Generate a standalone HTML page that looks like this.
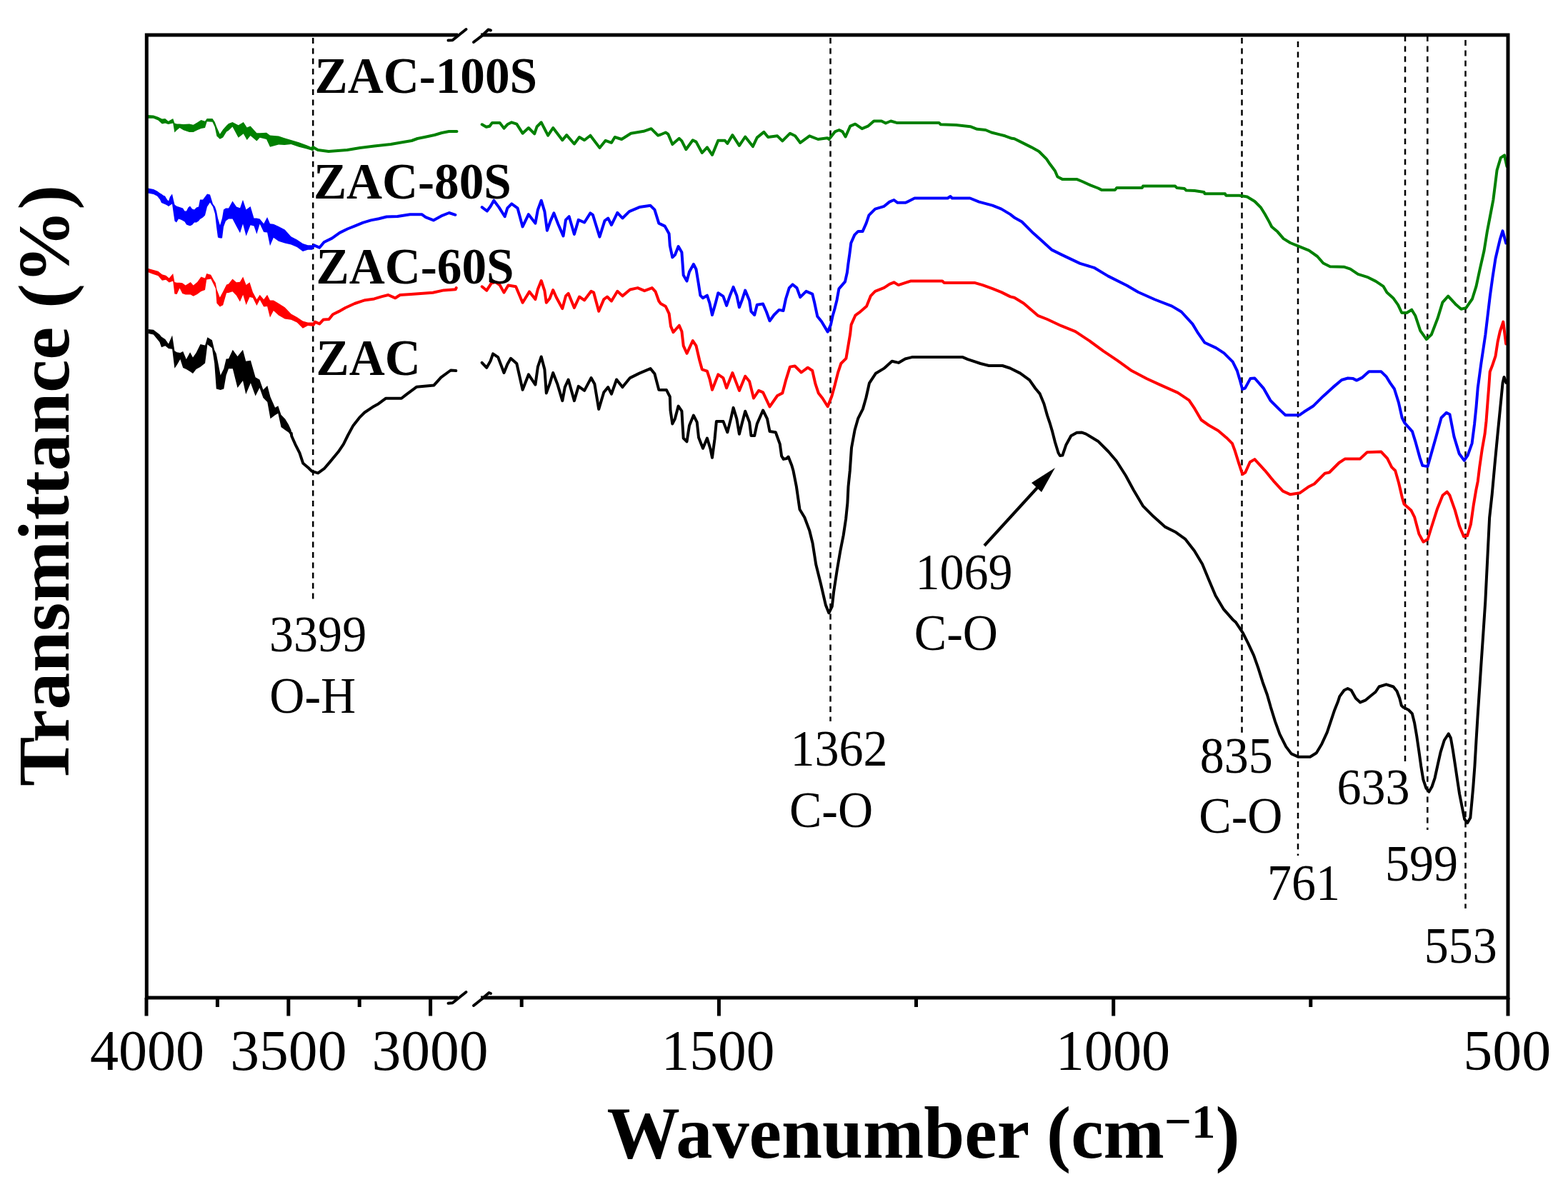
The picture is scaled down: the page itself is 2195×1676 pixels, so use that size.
<!DOCTYPE html>
<html><head><meta charset="utf-8"><title>FTIR spectra</title>
<style>html,body{margin:0;padding:0;background:#fff;}svg{display:block;}</style></head>
<body><svg xmlns="http://www.w3.org/2000/svg" width="2195" height="1676" viewBox="0 0 2195 1676">
<rect width="2195" height="1676" fill="#fff"/>
<line x1="438.2" y1="53" x2="438.2" y2="844" stroke="#000" stroke-width="2.5" stroke-dasharray="8 6.4"/>
<line x1="1162.5" y1="53" x2="1162.5" y2="1010" stroke="#000" stroke-width="2.5" stroke-dasharray="8 6.4"/>
<line x1="1738.5" y1="53" x2="1738.5" y2="1032" stroke="#000" stroke-width="2.5" stroke-dasharray="8 6.4"/>
<line x1="1817" y1="58" x2="1817" y2="1198" stroke="#000" stroke-width="2.5" stroke-dasharray="8 6.4"/>
<line x1="1967" y1="50" x2="1967" y2="1071" stroke="#000" stroke-width="2.5" stroke-dasharray="8 6.4"/>
<line x1="1998.3" y1="50" x2="1998.3" y2="1162" stroke="#000" stroke-width="2.5" stroke-dasharray="8 6.4"/>
<line x1="2051.5" y1="56" x2="2051.5" y2="1272" stroke="#000" stroke-width="2.5" stroke-dasharray="8 6.4"/>
<polygon points="206.6,161.0 214.8,161.5 221.4,163.7 226.9,166.5 231.2,165.9 235.6,169.7 242.2,165.9 244.4,172.5 247.6,173.6 251.5,173.6 256.9,174.1 265.1,173.6 270.6,174.7 276.1,171.4 281.5,168.1 287.0,169.7 289.7,165.9 297.4,165.9 300.7,170.8 303.4,177.9 307.8,187.8 312.2,181.2 317.1,175.8 320.0,173.1 325.5,170.9 333.7,175.3 340.8,170.9 345.7,178.6 350.6,176.4 359.4,186.2 363.7,186.2 373.0,185.7 378.0,189.5 390.0,190.6 398.2,193.3 407.5,196.1 418.4,199.3 429.3,203.2 437.5,206.8 437.5,211.0 429.3,208.5 418.4,205.8 407.5,202.0 398.2,203.1 390.0,202.5 378.0,205.8 373.0,194.9 363.7,192.7 359.4,197.6 350.6,189.9 345.7,196.0 340.8,187.2 333.7,192.7 325.5,177.4 320.0,182.8 317.1,184.4 312.2,192.6 307.8,194.8 303.4,190.4 300.7,177.8 297.4,170.7 289.7,170.2 287.0,178.9 281.5,180.0 276.1,182.2 270.6,184.9 265.1,184.9 256.9,182.2 251.5,178.9 247.6,182.2 244.4,185.5 242.2,172.4 235.6,174.0 231.2,172.4 226.9,173.5 221.4,168.5 214.8,165.8 206.6,165.8" fill="#008000"/>
<polyline points="437.5,208.9 438.0,206.0 445.0,210.0 460.0,212.0 486.0,210.0 504.0,207.0 524.0,204.6 547.0,202.0 564.3,199.0 576.3,197.0 584.4,194.0 594.4,192.0 608.4,189.0 618.4,186.0 628.5,184.0 639.5,184.0" fill="none" stroke="#008000" stroke-width="4.0" stroke-linejoin="round" stroke-linecap="round"/>
<polyline points="674.7,174.3 680.7,177.8 685.4,176.7 689.0,171.9 699.6,171.9 705.5,179.6 710.3,174.3 716.2,171.3 723.3,173.7 731.6,186.7 739.9,179.0 748.2,187.3 751.7,177.2 757.7,171.3 767.1,189.7 774.2,179.0 787.3,196.2 793.2,189.1 803.9,201.5 811.0,192.0 818.1,196.2 826.4,189.7 839.4,206.9 847.7,196.8 856.0,199.8 860.7,192.0 870.2,195.0 883.2,186.7 901.0,183.8 911.6,180.2 921.1,189.7 924.7,188.5 931.8,185.5 935.4,187.9 941.3,202.1 950.8,193.8 954.4,197.4 960.3,209.2 969.8,196.2 974.5,198.6 982.8,214.0 989.9,206.3 997.0,216.9 1005.3,196.8 1014.8,196.8 1018.3,200.9 1025.4,189.1 1034.9,203.9 1043.2,191.5 1053.9,205.1 1059.8,192.6 1069.3,184.9 1075.2,192.0 1088.2,190.3 1095.3,197.4 1106.0,186.7 1113.1,190.3 1120.2,199.8 1133.2,190.3 1145.1,195.0 1158.1,193.2 1160.5,195.0 1168.8,184.4 1174.7,182.0 1179.5,184.4 1183.6,191.5 1190.1,176.7 1197.2,173.7 1206.7,180.2 1215.0,176.7 1223.3,169.5 1234.0,169.5 1239.9,172.5 1247.0,169.5 1255.3,171.9 1314.5,171.9 1316.9,174.3 1338.2,174.9 1358.3,177.2 1367.8,180.8 1379.7,182.0 1388.0,185.5 1397.4,187.9 1406.9,190.3 1416.4,193.8 1420.0,194.2 1431.8,200.1 1443.7,206.1 1454.4,212.0 1465.0,222.6 1469.8,229.8 1476.9,239.2 1480.4,247.5 1487.5,251.1 1507.7,251.1 1514.8,254.0 1526.6,259.4 1537.3,263.5 1542.0,265.9 1561.0,265.9 1563.3,262.9 1598.9,262.9 1600.0,260.6 1645.1,260.6 1647.4,262.9 1658.1,264.1 1660.5,266.5 1672.3,267.1 1685.4,269.0 1686.6,271.3 1715.0,271.3 1716.2,273.7 1735.1,273.7 1745.8,275.5 1756.5,282.0 1764.8,290.3 1770.7,299.8 1776.6,310.4 1780.2,317.5 1788.5,324.6 1796.7,334.1 1806.2,340.0 1818.1,344.8 1832.3,350.7 1844.1,359.0 1852.4,368.5 1861.9,373.2 1882.0,373.8 1890.3,376.7 1901.0,383.9 1913.8,387.8 1926.0,393.9 1936.4,400.8 1941.5,409.5 1950.2,417.2 1957.1,426.8 1962.3,438.0 1969.2,438.0 1976.2,433.7 1981.4,442.3 1988.3,463.1 1996.9,475.2 2003.9,468.3 2012.5,445.8 2019.4,423.3 2027.2,414.6 2038.5,426.8 2045.4,432.8 2052.3,431.1 2061.0,418.5 2066.5,400.9 2071.5,377.6 2077.5,351.2 2082.0,323.3 2086.5,300.0 2090.4,279.6 2095.6,238.1 2100.8,220.8 2106.0,217.3 2109.4,232.9" fill="none" stroke="#008000" stroke-width="4.0" stroke-linejoin="round" stroke-linecap="round"/>
<polygon points="206.0,263.3 215.0,264.9 220.0,267.6 224.0,270.6 226.0,271.6 228.5,273.6 231.0,274.6 234.0,279.6 236.0,281.6 238.0,275.6 241.0,271.6 243.0,280.6 244.5,286.6 247.0,288.6 250.0,289.6 253.0,290.6 256.0,291.6 258.5,295.6 261.0,295.6 263.5,290.6 266.0,288.6 269.0,292.6 272.0,293.6 275.0,290.6 278.0,289.6 280.0,279.6 284.0,279.6 287.0,275.6 290.0,271.6 294.0,272.6 298.0,285.4 301.0,289.6 303.0,295.6 305.0,305.6 308.0,315.6 311.0,305.6 313.0,293.6 316.0,291.6 320.0,291.6 325.5,281.6 331.0,289.6 336.0,291.3 340.0,279.8 344.6,293.5 350.6,289.1 355.5,305.5 359.4,305.5 363.7,306.6 369.2,313.2 374.1,303.9 378.0,313.2 382.9,313.7 390.0,317.0 398.7,321.4 407.5,331.2 415.7,335.6 423.9,341.1 431.0,343.2 437.5,343.2 437.5,349.7 431.0,349.7 423.9,351.9 415.7,345.9 407.5,342.6 398.7,340.4 390.0,337.7 382.9,332.7 378.0,344.2 374.1,325.6 369.2,325.1 363.7,313.6 359.4,327.8 355.5,316.4 350.6,315.2 344.6,330.6 340.0,313.6 336.0,326.2 331.0,316.9 325.5,306.4 320.0,306.4 316.0,309.4 313.0,317.4 311.0,333.4 308.0,333.4 305.0,332.4 303.0,317.4 301.0,299.4 298.0,289.6 294.0,283.4 290.0,289.4 287.0,301.4 284.0,304.4 280.0,306.9 278.0,309.4 275.0,311.4 272.0,311.4 269.0,314.9 266.0,316.2 263.5,315.4 261.0,314.4 258.5,310.4 256.0,309.1 253.0,307.4 250.0,306.4 247.0,311.4 244.5,309.4 243.0,299.4 241.0,285.4 238.0,287.4 236.0,288.9 234.0,287.4 231.0,285.9 228.5,285.0 226.0,283.9 224.0,279.4 220.0,274.4 215.0,271.9 206.0,270.3" fill="#0000ff"/>
<polyline points="437.5,346.5 439.5,343.4 447.2,346.7 453.7,339.0 464.7,333.6 475.6,325.9 486.5,320.5 497.5,316.1 508.4,311.7 519.3,308.4 530.3,306.2 541.2,303.5 556.5,303.0 574.0,300.2 590.4,300.2 595.9,304.1 606.8,308.4 617.7,302.4 628.7,298.0 637.4,300.8" fill="none" stroke="#0000ff" stroke-width="4.0" stroke-linejoin="round" stroke-linecap="round"/>
<polyline points="674.7,290.1 681.8,295.5 686.6,289.0 691.3,280.7 698.4,290.1 706.7,303.2 710.3,291.3 716.2,285.4 724.5,291.3 731.6,317.4 739.9,300.2 749.4,312.6 752.9,293.7 757.7,280.7 762.4,296.1 765.9,322.7 770.7,309.1 775.4,298.4 781.3,313.8 788.5,330.4 792.0,307.9 796.7,303.2 803.9,328.0 809.8,307.9 818.1,311.5 826.4,298.4 829.9,300.8 839.4,331.6 846.5,309.1 851.2,305.5 856.0,315.0 864.3,297.8 871.4,305.5 880.9,296.1 895.1,290.1 910.5,287.8 916.4,293.7 922.3,312.6 930.7,316.6 936.6,327.2 937.8,343.8 941.3,360.4 944.9,356.9 949.6,345.0 954.4,353.3 955.5,368.7 956.7,385.3 961.5,393.6 965.0,380.5 970.9,369.9 974.5,377.0 978.0,398.3 980.4,413.7 984.0,417.3 989.9,413.7 993.4,424.4 997.0,441.0 1001.7,424.4 1005.3,410.2 1012.4,414.9 1017.1,427.9 1021.9,413.7 1026.6,401.9 1031.3,413.7 1034.9,430.3 1038.5,420.8 1043.2,406.6 1049.1,420.8 1051.5,436.2 1056.2,441.0 1059.8,426.7 1068.1,425.6 1072.8,436.2 1077.5,449.3 1083.5,441.0 1090.6,433.9 1096.5,435.0 1100.0,418.5 1104.8,403.1 1109.5,398.3 1115.5,403.1 1120.2,416.1 1128.5,407.8 1137.2,411.6 1140.0,423.0 1144.3,443.1 1150.1,450.3 1158.7,464.6 1163.0,454.6 1165.8,441.7 1168.7,431.6 1171.5,420.2 1174.4,404.4 1183.0,394.4 1185.9,381.5 1187.3,370.0 1189.4,355.2 1191.3,340.2 1196.3,328.9 1201.3,323.9 1207.6,323.9 1212.6,312.6 1216.4,301.3 1225.1,292.6 1237.7,288.8 1245.2,282.6 1251.4,280.0 1256.5,283.8 1267.7,283.8 1280.3,277.5 1326.6,277.5 1330.4,275.0 1332.9,277.5 1357.9,277.5 1370.5,282.6 1389.3,287.6 1401.8,292.6 1414.3,300.1 1420.6,305.1 1430.5,310.5 1446.3,326.3 1459.4,338.1 1472.5,349.9 1485.6,356.4 1511.9,368.9 1531.6,374.8 1551.3,386.6 1577.5,399.8 1593.3,409.0 1616.9,419.5 1640.5,428.6 1653.7,436.5 1669.4,453.6 1677.3,466.7 1686.5,479.8 1702.3,487.1 1713.4,494.4 1725.7,506.7 1731.8,519.0 1735.5,531.3 1739.2,544.9 1742.9,543.6 1750.3,530.1 1756.4,529.5 1768.7,543.6 1778.6,560.9 1792.1,574.4 1799.5,581.2 1819.2,581.2 1825.3,576.8 1838.8,568.2 1852.4,554.7 1865.9,542.4 1878.2,532.0 1886.8,529.5 1894.2,530.1 1899.1,532.6 1906.5,528.9 1916.3,520.3 1933.5,520.3 1940.9,527.7 1946.0,536.1 1951.9,544.5 1957.9,563.6 1962.7,585.0 1966.3,592.2 1977.0,604.1 1981.8,619.7 1987.7,641.1 1991.3,651.9 1998.5,653.1 2003.3,636.4 2010.4,611.3 2017.6,585.0 2024.7,577.9 2029.5,580.3 2035.5,611.3 2042.7,635.2 2049.8,644.7 2054.6,637.6 2060.6,620.8 2064.1,593.4 2066.5,570.0 2068.7,543.6 2073.0,511.4 2079.4,468.5 2085.8,414.8 2089.5,388.0 2093.5,362.0 2097.0,347.0 2099.7,335.7 2103.5,323.3 2108.2,340.4" fill="none" stroke="#0000ff" stroke-width="4.0" stroke-linejoin="round" stroke-linecap="round"/>
<polygon points="206.1,375.4 213.2,377.6 221.4,379.8 226.9,384.2 232.3,385.8 236.7,389.6 242.2,383.1 244.4,395.1 247.6,395.7 251.5,395.7 255.3,396.2 259.7,399.5 266.8,395.1 270.6,399.5 276.1,395.1 281.5,387.5 287.0,389.6 289.2,383.1 295.2,384.7 299.0,391.8 301.8,396.2 303.4,405.0 307.8,416.6 312.2,408.2 317.1,398.4 320.0,397.5 325.5,390.4 330.9,395.3 335.9,394.7 340.2,387.6 344.6,399.1 349.5,395.3 353.9,409.0 359.4,419.3 363.7,412.8 369.2,419.3 374.1,412.8 378.0,420.4 382.9,420.4 390.0,424.8 398.7,430.3 407.5,439.6 415.7,443.9 423.9,449.4 431.0,451.6 439.2,451.6 439.2,457.0 431.0,455.9 423.9,459.7 415.7,451.5 407.5,447.7 398.7,446.6 390.0,441.6 382.9,435.1 378.0,444.4 374.1,429.1 369.2,429.6 363.7,419.8 359.4,428.0 353.9,417.0 349.5,416.0 344.6,426.9 340.2,412.7 335.9,422.5 330.9,413.8 325.5,408.3 320.0,409.9 317.1,410.3 312.2,427.3 307.8,429.5 303.4,424.5 301.8,403.8 299.0,398.3 295.2,390.6 289.2,391.4 287.0,406.0 281.5,408.1 276.1,412.0 270.6,414.7 266.8,412.5 259.7,412.5 255.3,410.9 251.5,403.4 247.6,412.0 244.4,411.4 242.2,393.4 236.7,395.6 232.3,391.7 226.9,392.8 221.4,386.3 213.2,383.5 206.1,380.8" fill="#ff0000"/>
<polyline points="439.2,454.3 440.8,450.7 447.3,453.4 452.8,447.4 460.5,446.9 465.9,440.3 474.7,435.9 483.4,431.0 496.5,425.0 509.7,420.6 523.9,418.4 534.8,415.1 543.5,413.0 553.4,417.3 560.0,413.0 575.3,411.9 605.9,409.7 621.2,406.4 637.6,405.3 638.7,403.1" fill="none" stroke="#ff0000" stroke-width="4.0" stroke-linejoin="round" stroke-linecap="round"/>
<polyline points="674.7,401.3 681.3,406.7 687.8,396.6 693.7,394.8 699.6,399.0 705.5,409.6 711.5,399.5 722.1,401.3 731.6,423.8 741.1,408.4 749.4,419.1 752.9,404.9 757.7,393.0 762.4,407.2 764.8,423.8 769.5,417.9 774.2,406.1 779.0,416.7 787.3,432.1 792.0,414.4 795.6,410.8 803.9,430.9 811.0,415.5 818.1,420.3 827.5,407.8 831.1,409.6 838.2,435.7 845.3,419.1 850.0,415.5 856.0,421.5 864.3,407.8 871.4,414.4 882.0,405.5 892.7,403.1 902.2,407.2 912.8,403.1 917.6,408.4 922.3,421.5 924.7,424.9 931.8,429.0 936.6,439.1 939.0,456.9 942.5,465.1 950.8,455.7 954.4,464.0 956.7,484.1 961.5,494.8 969.8,477.0 974.5,484.1 979.2,504.2 982.8,517.3 989.9,519.6 993.4,530.3 997.0,545.7 1005.3,524.4 1012.4,529.1 1017.1,543.3 1025.4,522.0 1034.9,546.9 1043.2,526.7 1049.1,533.9 1055.0,557.5 1062.1,546.9 1068.1,549.3 1077.5,569.4 1088.2,554.0 1095.3,550.4 1100.0,532.7 1105.9,513.6 1112.7,512.5 1121.7,521.5 1130.8,514.7 1137.2,519.0 1141.5,537.7 1145.8,550.5 1151.5,557.7 1158.7,569.2 1164.4,554.8 1168.7,539.1 1173.0,521.9 1177.3,509.0 1184.4,501.8 1187.3,484.6 1190.2,467.4 1191.6,454.6 1197.3,441.7 1203.1,437.4 1213.1,428.8 1218.8,414.4 1225.1,407.9 1237.7,402.8 1245.2,397.8 1251.4,395.3 1257.7,399.1 1265.2,396.6 1275.2,393.4 1319.1,393.4 1321.6,395.9 1364.2,395.9 1375.5,399.1 1389.3,404.1 1401.8,409.1 1414.3,415.4 1420.0,416.8 1433.1,424.7 1452.8,441.8 1465.9,447.0 1485.6,456.2 1505.3,464.1 1525.0,477.2 1544.7,491.6 1564.4,504.8 1583.1,518.4 1605.4,530.2 1622.5,538.1 1648.8,549.9 1664.5,560.4 1672.4,572.2 1681.6,588.0 1692.3,595.5 1705.3,602.9 1717.0,612.9 1724.9,620.8 1728.8,631.3 1734.1,648.3 1739.3,664.1 1743.3,661.5 1749.8,647.0 1756.4,643.1 1770.8,658.8 1782.7,673.3 1795.8,687.7 1806.3,692.3 1819.4,690.3 1832.5,681.2 1840.0,677.5 1854.8,662.7 1860.9,661.5 1874.4,648.0 1883.0,642.4 1904.0,642.4 1913.8,633.2 1933.5,632.6 1942.1,641.8 1948.2,654.1 1953.2,659.0 1958.1,676.3 1963.0,697.2 1965.5,705.8 1975.3,714.4 1980.2,724.2 1986.4,747.6 1992.5,758.7 1998.7,755.0 2003.6,739.0 2012.2,711.9 2019.6,693.5 2025.7,688.6 2029.4,693.5 2036.8,714.4 2043.0,736.5 2049.1,751.3 2054.0,750.1 2058.9,734.1 2062.6,708.2 2066.3,686.1 2068.8,673.8 2071.2,654.1 2074.9,628.3 2078.6,607.4 2080.5,590.0 2082.5,563.6 2084.3,540.6 2085.7,520.4 2088.8,512.6 2093.5,498.7 2096.6,478.5 2099.7,464.5 2104.3,450.6 2108.2,481.6" fill="none" stroke="#ff0000" stroke-width="4.0" stroke-linejoin="round" stroke-linecap="round"/>
<polygon points="207.6,461.1 214.8,461.8 223.4,468.3 226.0,471.6 231.3,474.9 235.9,481.5 241.1,469.6 244.4,491.3 247.7,493.3 252.3,493.9 256.2,492.0 260.8,503.1 266.1,493.3 270.0,500.5 274.6,493.9 280.5,482.1 287.1,483.4 290.4,472.3 296.9,476.2 300.2,490.0 302.8,495.2 308.7,525.6 313.3,516.3 316.6,502.5 320.0,502.3 325.8,489.8 332.5,499.0 340.0,489.8 344.2,505.7 350.9,504.8 357.6,528.2 363.4,531.6 368.4,545.8 374.3,539.9 378.5,555.8 385.1,570.8 389.3,568.3 393.5,580.8 399.3,586.7 404.0,594.6 407.7,602.6 407.7,610.4 404.0,605.4 399.3,602.2 393.5,598.0 389.3,578.8 385.1,581.3 378.5,586.3 374.3,562.9 368.4,557.1 363.4,542.9 357.6,554.6 350.9,536.2 344.2,552.1 340.0,532.9 332.5,542.9 325.8,516.2 320.0,516.2 316.6,525.6 313.3,544.6 308.7,545.9 302.8,544.6 300.2,508.5 296.9,487.5 290.4,482.2 287.1,508.5 280.5,513.7 274.6,517.0 270.0,522.9 266.1,520.3 260.8,517.0 256.2,515.1 252.3,502.9 247.7,511.1 244.4,515.7 241.1,488.8 235.9,488.1 231.3,484.2 226.0,486.2 223.4,478.9 214.8,468.4 207.6,467.1" fill="#000000"/>
<polyline points="407.7,606.5 408.3,610.7 413.2,621.8 419.4,634.1 424.3,648.8 431.7,655.0 436.6,659.9 445.2,662.4 453.8,656.2 461.2,647.6 473.5,632.8 480.9,621.8 487.0,609.5 494.4,595.9 503.0,584.9 510.4,577.5 521.5,570.1 530.1,565.2 539.9,557.8 562.0,557.8 568.2,552.9 583.0,541.8 607.5,539.4 617.4,528.3 630.9,518.5 638.3,519.1" fill="none" stroke="#000000" stroke-width="4.0" stroke-linejoin="round" stroke-linecap="round"/>
<polyline points="674.7,507.8 681.3,514.9 686.6,505.4 690.1,495.3 697.2,500.1 705.5,522.0 710.3,510.1 715.0,501.8 723.3,509.0 731.6,545.7 739.9,524.4 749.4,538.6 752.9,513.7 757.7,499.5 762.4,517.2 764.8,550.4 769.5,537.4 774.2,522.0 780.2,537.4 787.3,561.1 790.8,542.1 795.6,531.5 803.9,561.1 809.8,540.9 818.1,546.9 827.5,529.1 832.3,537.4 838.2,572.9 845.3,549.2 851.2,542.1 856.0,551.6 863.1,531.5 871.4,542.1 882.0,529.1 895.1,522.6 910.5,516.1 916.4,523.2 922.3,545.7 924.7,546.1 933.0,546.1 937.8,555.5 938.5,574.5 941.3,593.4 944.9,586.3 949.6,568.6 954.4,575.7 955.5,594.6 956.7,613.6 961.5,618.3 965.0,595.8 970.9,581.6 975.7,591.1 978.0,612.4 984.0,627.8 989.9,613.6 994.6,629.0 997.0,640.8 1000.5,614.8 1002.9,589.9 1012.4,589.9 1018.3,605.3 1023.1,586.3 1026.6,570.9 1031.3,586.3 1034.9,607.7 1038.5,593.4 1043.2,575.7 1049.1,591.1 1051.5,610.0 1056.2,610.0 1059.8,593.4 1068.1,574.5 1074.0,586.3 1077.5,604.1 1085.8,605.3 1091.8,621.9 1094.1,638.5 1096.8,642.9 1101.2,642.0 1103.6,639.5 1108.3,651.5 1110.4,658.7 1114.9,681.4 1119.5,713.2 1126.3,724.5 1133.1,742.6 1137.6,760.8 1142.2,790.2 1149.0,817.5 1155.8,846.9 1160.3,858.3 1164.8,849.2 1167.1,828.8 1171.6,799.3 1176.2,772.1 1180.7,749.4 1184.1,726.8 1186.4,704.1 1187.5,681.4 1189.8,658.7 1192.0,627.0 1196.6,602.0 1201.1,586.2 1207.9,572.6 1212.4,556.7 1217.0,536.3 1226.0,522.7 1237.4,515.9 1248.7,505.7 1257.8,507.9 1267.1,502.5 1276.6,500.1 1347.7,500.1 1354.8,503.1 1372.5,509.0 1384.4,512.0 1403.3,512.0 1414.0,515.5 1428.2,522.6 1441.2,532.1 1449.5,544.0 1455.5,551.1 1461.4,565.3 1466.1,581.9 1469.7,592.5 1473.2,604.4 1476.8,618.6 1481.5,634.0 1483.9,638.1 1487.4,637.5 1492.2,623.3 1499.3,610.3 1507.4,605.7 1514.7,605.6 1520.3,607.6 1537.0,617.7 1551.8,632.5 1562.9,645.5 1575.8,665.8 1586.9,686.2 1599.9,708.3 1614.6,723.1 1631.3,737.9 1646.1,745.3 1659.0,754.6 1672.0,771.2 1683.1,789.7 1692.3,811.9 1701.6,834.1 1712.6,852.6 1725.6,867.4 1730.0,871.3 1740.0,886.3 1747.5,901.3 1755.1,917.6 1761.3,935.2 1767.6,955.2 1773.9,972.7 1778.9,990.3 1785.1,1010.3 1791.4,1027.9 1800.2,1045.4 1807.7,1055.4 1817.7,1059.8 1834.0,1059.8 1842.8,1054.2 1850.3,1041.7 1857.8,1025.4 1862.8,1010.3 1867.8,995.3 1872.8,982.8 1875.3,975.2 1881.6,966.5 1886.6,964.0 1891.6,966.5 1897.9,977.8 1904.2,983.4 1911.7,980.3 1919.2,974.0 1925.5,969.0 1930.5,961.5 1940.5,958.3 1950.5,961.5 1955.5,967.7 1959.3,977.8 1961.8,987.8 1964.3,990.3 1971.8,994.0 1976.8,999.1 1980.1,1012.2 1983.2,1030.4 1986.2,1050.7 1989.3,1073.1 1992.3,1091.3 1996.4,1103.5 2000.4,1108.6 2004.5,1101.5 2008.6,1089.3 2012.6,1071.0 2016.7,1052.8 2021.8,1036.5 2027.8,1027.4 2030.9,1033.5 2033.9,1050.7 2037.0,1071.0 2040.0,1091.3 2043.1,1111.6 2047.1,1131.9 2050.2,1147.1 2054.2,1152.2 2058.3,1145.1 2060.3,1123.8 2062.3,1101.5 2064.4,1073.1 2066.4,1038.6 2068.5,1004.0 2070.5,974.0 2073.4,930.1 2076.4,886.1 2079.3,842.2 2082.2,783.6 2085.1,725.0 2088.7,692.0 2092.5,650.0 2096.7,606.0 2101.2,560.6 2103.6,536.0 2105.5,528.0 2108.5,536.0" fill="none" stroke="#000000" stroke-width="4.0" stroke-linejoin="round" stroke-linecap="round"/>
<g stroke="#000" stroke-width="5.0" fill="none">
<polyline points="641,49 205.3,49 205.3,1397 641,1397"/>
<polyline points="673,49 2111,49 2111,1397 673,1397"/>
</g>
<g stroke="#000" stroke-width="4" fill="none" stroke-linejoin="round" stroke-linecap="round">
<polyline points="627.5,56.6 633.5,56.2 652.5,41"/>
<polyline points="663,59 674,50.6 683.5,41.5 687,42.5"/>
<polyline points="627.5,1404.8 633.5,1404.2 652.5,1389"/>
<polyline points="663,1408 674,1399.2 684.5,1390 687,1391"/>
</g>
<g stroke="#000" stroke-width="5">
<line x1="205.0" y1="1397" x2="205.0" y2="1422.5"/>
<line x1="403.8" y1="1397" x2="403.8" y2="1422.5"/>
<line x1="602.6" y1="1397" x2="602.6" y2="1422.5"/>
<line x1="304.4" y1="1397" x2="304.4" y2="1410"/>
<line x1="503.2" y1="1397" x2="503.2" y2="1410"/>
<line x1="1006.4" y1="1397" x2="1006.4" y2="1422.5"/>
<line x1="1558.7" y1="1397" x2="1558.7" y2="1422.5"/>
<line x1="2111.0" y1="1397" x2="2111.0" y2="1422.5"/>
<line x1="730.2" y1="1397" x2="730.2" y2="1410"/>
<line x1="1282.5" y1="1397" x2="1282.5" y2="1410"/>
<line x1="1834.8" y1="1397" x2="1834.8" y2="1410"/>
</g>
<line x1="1378" y1="764" x2="1462" y2="672" stroke="#000" stroke-width="4.2"/>
<polygon points="1477,655 1444,676 1458,689" fill="#000"/>
<g font-family="Liberation Serif, Times New Roman, serif" fill="#000">
<text transform="translate(125.9,1497.9) scale(1.007,1)" font-size="79.5">4000</text>
<text transform="translate(322.3,1497.9) scale(1.026,1)" font-size="79.5">3500</text>
<text transform="translate(520.4,1497.9) scale(1.026,1)" font-size="79.5">3000</text>
<text transform="translate(925.7,1498.4) scale(0.998,1)" font-size="79.5">1500</text>
<text transform="translate(1477.7,1498.4) scale(1.010,1)" font-size="79.5">1000</text>
<text transform="translate(2048.2,1497.9) scale(1.033,1)" font-size="79.5">500</text>
<text transform="translate(377.1,911.6) scale(0.945,1)" font-size="72.0">3399</text>
<text transform="translate(377.3,998.0) scale(0.945,1)" font-size="72.0">O-H</text>
<text transform="translate(1106.5,1072.2) scale(0.945,1)" font-size="72.0">1362</text>
<text transform="translate(1105.0,1157.5) scale(0.945,1)" font-size="72.0">C-O</text>
<text transform="translate(1281.4,825.4) scale(0.945,1)" font-size="72.0">1069</text>
<text transform="translate(1279.8,909.7) scale(0.945,1)" font-size="72.0">C-O</text>
<text transform="translate(1679.8,1082.0) scale(0.945,1)" font-size="72.0">835</text>
<text transform="translate(1678.3,1165.8) scale(0.945,1)" font-size="72.0">C-O</text>
<text transform="translate(1773.9,1259.7) scale(0.945,1)" font-size="72.0">761</text>
<text transform="translate(1871.6,1126.2) scale(0.945,1)" font-size="72.0">633</text>
<text transform="translate(1939.1,1232.7) scale(0.945,1)" font-size="72.0">599</text>
<text transform="translate(1993.7,1348.1) scale(0.945,1)" font-size="72.0">553</text>
<text transform="translate(440.5,130.4) scale(0.975,1)" font-size="71.0" font-weight="bold">ZAC-100S</text>
<text transform="translate(438.9,278.3) scale(0.975,1)" font-size="71.0" font-weight="bold">ZAC-80S</text>
<text transform="translate(442.6,397.0) scale(0.975,1)" font-size="71.0" font-weight="bold">ZAC-60S</text>
<text transform="translate(442.6,524.8) scale(0.975,1)" font-size="71.0" font-weight="bold">ZAC</text>
<text transform="translate(96,1101) rotate(-90) scale(1.019,1)" font-size="101.8" font-weight="bold">Transmittance (%)</text>
<text transform="translate(849.4,1620.5) scale(0.985,1)" font-size="104" font-weight="bold">Wavenumber (cm<tspan font-size="68" dy="-27.9">−1</tspan><tspan dy="27.9">)</tspan></text>
</g>
</svg></body></html>
